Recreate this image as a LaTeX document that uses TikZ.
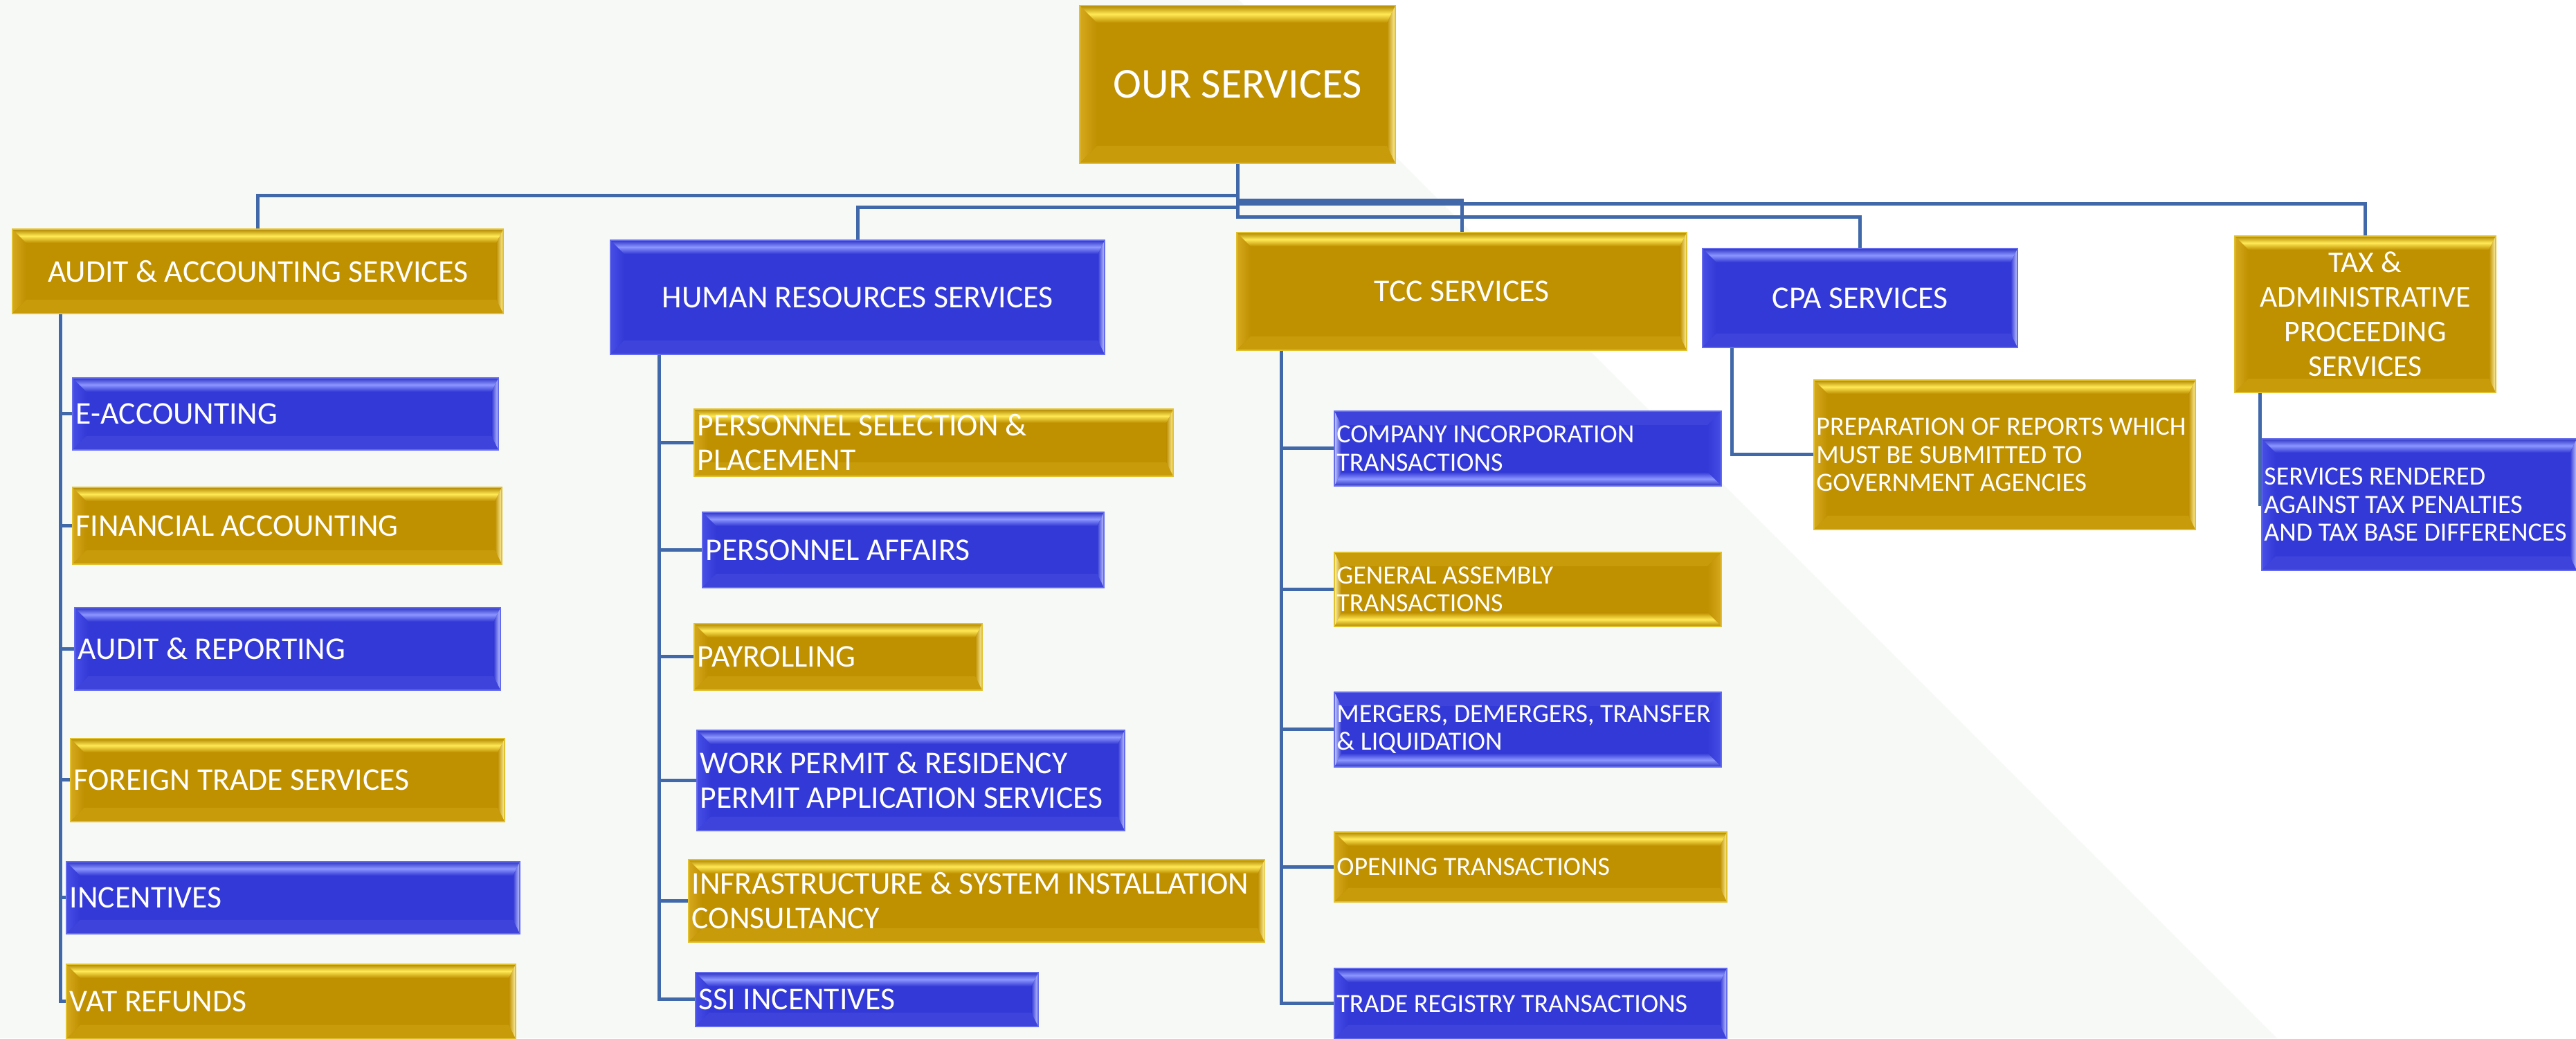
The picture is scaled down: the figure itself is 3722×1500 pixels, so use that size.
\documentclass[tikz,border=0pt]{standalone}
\usepackage{fontspec}
\setmainfont{Carlito}
\definecolor{gbase}{RGB}{191,144,0}
\definecolor{ghi}{RGB}{255,233,85}
\definecolor{gside}{RGB}{214,168,30}
\definecolor{bbase}{RGB}{51,57,214}
\definecolor{bhi}{RGB}{140,150,255}
\definecolor{bside}{RGB}{70,78,230}
\definecolor{conncol}{RGB}{65,105,170}
\definecolor{bgl}{RGB}{247,249,247}
\def\bw{0.2cm}
\def\br{0.1cm}
\tikzset{
  bw/.code={\def\bw{#1}},
  br/.code={\def\br{#1}},
  bevel/.style n args={3}{fill=#1, draw=#2!55!#1, line width=0.5pt,
    path picture={
      \path (path picture bounding box.north west) coordinate (q1)
            (path picture bounding box.north east) coordinate (q2)
            (path picture bounding box.south east) coordinate (q3)
            (path picture bounding box.south west) coordinate (q4);
      \shade[left color=#3, right color=#1] (q1) -- (q4) -- ([xshift=\bw,yshift=\bw]q4) -- ([xshift=\bw,yshift=-\bw]q1) -- cycle;
      \fill[#1!88!#2] (q4) -- (q3) -- ([xshift=-\br,yshift=\bw]q3) -- ([xshift=\bw,yshift=\bw]q4) -- cycle;
      \shade[top color=#1!92!black, bottom color=#1, middle color=#2] (q1) -- (q2) -- ([xshift=-\br,yshift=-\bw]q2) -- ([xshift=\bw,yshift=-\bw]q1) -- cycle;
      \shade[left color=#1, right color=#2!50!white] (q2) -- (q3) -- ([xshift=-\br,yshift=\bw]q3) -- ([xshift=-\br,yshift=-\bw]q2) -- cycle;
    }},
  bevelr/.style n args={3}{fill=#1, draw=#2!55!#1, line width=0.5pt,
    path picture={
      \path (path picture bounding box.north west) coordinate (q1)
            (path picture bounding box.north east) coordinate (q2)
            (path picture bounding box.south east) coordinate (q3)
            (path picture bounding box.south west) coordinate (q4);
      \fill[#1!88!#2] (q1) -- (q2) -- ([xshift=-\bw,yshift=-\bw]q2) -- ([xshift=\br,yshift=-\bw]q1) -- cycle;
      \shade[left color=#1, right color=#3] (q2) -- (q3) -- ([xshift=-\bw,yshift=\bw]q3) -- ([xshift=-\bw,yshift=-\bw]q2) -- cycle;
      \shade[top color=#1, bottom color=#1!92!black, middle color=#2] (q4) -- (q3) -- ([xshift=-\bw,yshift=\bw]q3) -- ([xshift=\br,yshift=\bw]q4) -- cycle;
      \shade[left color=#2!50!white, right color=#1] (q1) -- (q4) -- ([xshift=\br,yshift=\bw]q4) -- ([xshift=\br,yshift=-\bw]q1) -- cycle;
    }},
  gold/.style={bevel={gbase}{ghi}{gside}},
  blue/.style={bevel={bbase}{bhi}{bside}},
  goldr/.style={bevelr={gbase}{ghi}{gside}},
  bluer/.style={bevelr={bbase}{bhi}{bside}},
  tightspace/.style={execute at begin node={\spaceskip=0pt\xspaceskip=0pt\relax}},
  parent/.style={anchor=north west, inner sep=0pt, align=center, text=white, tightspace},
  child/.style={anchor=north west, inner xsep=0.05cm, inner ysep=0pt, align=left, text=white, tightspace},
  childs/.style={anchor=north west, inner xsep=0.035cm, inner ysep=0pt, align=left, text=white, tightspace},
  fbig/.style={font=\fontsize{17.5}{20}\selectfont},
  fmid/.style={font=\fontsize{13}{14.2}\selectfont},
  ftax/.style={font=\fontsize{12.4}{14.2}\selectfont},
  fsml/.style={font=\fontsize{10.8}{11.5}\selectfont},
  conn/.style={draw=conncol, line width=1.4pt},
}
\begin{document}
\begin{tikzpicture}[x=0.01cm,y=-0.01cm]
\fill[white] (0,0) rectangle (3722,1500);
\fill[bgl] (0,0) -- (1790,0) -- (3290,1500) -- (0,1500) -- cycle;
\useasboundingbox (0,0) rectangle (3722,1500);

% top level
\node[gold, parent, fbig, bw=0.25cm, br=0.12cm, minimum width=4.56cm, minimum height=2.28cm] (root) at (1559,7) {OUR SERVICES};
\node[gold, parent, fmid, minimum width=7.09cm, minimum height=1.22cm] (aud) at (17,330) {AUDIT \& ACCOUNTING SERVICES};
\node[blue, parent, fmid, minimum width=7.14cm, minimum height=1.65cm] (hr) at (881,346) {HUMAN RESOURCES SERVICES};
\node[gold, parent, fmid, minimum width=6.50cm, minimum height=1.70cm] (tcc) at (1786,335) {TCC SERVICES};
\node[blue, parent, fmid, minimum width=4.55cm, minimum height=1.43cm] (cpa) at (2459,358) {CPA SERVICES};
\node[gold, parent, ftax, minimum width=3.77cm, minimum height=2.26cm] (tax) at (3228,340) {TAX \&\\ADMINISTRATIVE\\PROCEEDING\\SERVICES};

% audit column
\node[blue, child, fmid, text width=6.05cm, minimum height=1.04cm] (e1) at (104,545) {E-ACCOUNTING};
\node[gold, child, fmid, text width=6.10cm, minimum height=1.11cm] (e2) at (104,703) {FINANCIAL ACCOUNTING};
\node[blue, child, fmid, text width=6.05cm, minimum height=1.19cm] (e3) at (107,877) {AUDIT \& REPORTING};
\node[gold, child, fmid, text width=6.17cm, minimum height=1.20cm] (e4) at (101,1066) {FOREIGN TRADE SERVICES};
\node[blue, child, fmid, text width=6.45cm, minimum height=1.04cm] (e5) at (95,1244) {INCENTIVES};
\node[gold, child, fmid, text width=6.39cm, minimum height=1.08cm] (e6) at (95,1392) {VAT REFUNDS};

% HR column
\node[gold, child, fmid, text width=6.82cm, minimum height=0.97cm] (h1) at (1002,590) {PERSONNEL SELECTION \&\\PLACEMENT};
\node[blue, child, fmid, text width=5.70cm, minimum height=1.09cm] (h2) at (1014,739) {PERSONNEL AFFAIRS};
\node[gold, child, fmid, text width=4.06cm, minimum height=0.96cm] (h3) at (1002,900) {PAYROLLING};
\node[blue, child, fmid, text width=6.08cm, minimum height=1.45cm] (h4) at (1006,1054) {WORK PERMIT \& RESIDENCY\\PERMIT APPLICATION SERVICES};
\node[gold, child, fmid, text width=8.22cm, minimum height=1.19cm] (h5) at (994,1241) {\mbox{INFRASTRUCTURE \& SYSTEM INSTALLATION}\\CONSULTANCY};
\node[blue, child, fmid, text width=4.85cm, minimum height=0.78cm] (h6) at (1004,1404) {SSI INCENTIVES};

% TCC column
\node[bluer, childs, fsml, text width=5.52cm, minimum height=1.08cm] (t1) at (1927,593) {COMPANY INCORPORATION\\TRANSACTIONS};
\node[goldr, childs, fsml, text width=5.52cm, minimum height=1.07cm] (t2) at (1927,797) {GENERAL ASSEMBLY\\TRANSACTIONS};
\node[bluer, childs, fsml, text width=5.52cm, minimum height=1.08cm] (t3) at (1927,999) {\mbox{MERGERS, DEMERGERS, TRANSFER}\\\& LIQUIDATION};
\node[gold, childs, fsml, text width=5.60cm, minimum height=1.01cm] (t4) at (1927,1201) {OPENING TRANSACTIONS};
\node[blue, childs, fsml, text width=5.60cm, minimum height=1.02cm] (t5) at (1927,1398) {TRADE REGISTRY TRANSACTIONS};

% CPA and TAX children
\node[gold, childs, fsml, text width=5.44cm, minimum height=2.16cm] (p1) at (2620,548) {\mbox{PREPARATION OF REPORTS WHICH}\\MUST BE SUBMITTED TO\\GOVERNMENT AGENCIES};
\node[blue, childs, fsml, text width=4.48cm, minimum height=1.90cm] (s1) at (3267,633) {SERVICES RENDERED\\AGAINST TAX PENALTIES\\\mbox{AND TAX BASE DIFFERENCES}};

% connectors from root
\draw[conn] (root.south) -- ++(0,46) -| (aud.north);
\draw[conn] (root.south) -- ++(0,63) -| (hr.north);
\draw[conn] (root.south) -- ++(0,53) -| (tcc.north);
\draw[conn] (root.south) -- ++(0,58) -| (tax.north);
\draw[conn] (root.south) -- ++(0,77) -| (cpa.north);

% column trunks
\foreach \c in {e1,e2,e3,e4,e5,e6} \draw[conn] ([xshift=0.70cm]aud.south west) |- (\c.west);
\foreach \c in {h1,h2,h3,h4,h5,h6} \draw[conn] ([xshift=0.71cm]hr.south west) |- (\c.west);
\foreach \c in {t1,t2,t3,t4,t5} \draw[conn] ([xshift=0.65cm]tcc.south west) |- (\c.west);
\draw[conn] ([xshift=0.43cm]cpa.south west) |- (p1.west);
\draw[conn] ([xshift=0.37cm]tax.south west) |- (s1.west);
\end{tikzpicture}
\end{document}
